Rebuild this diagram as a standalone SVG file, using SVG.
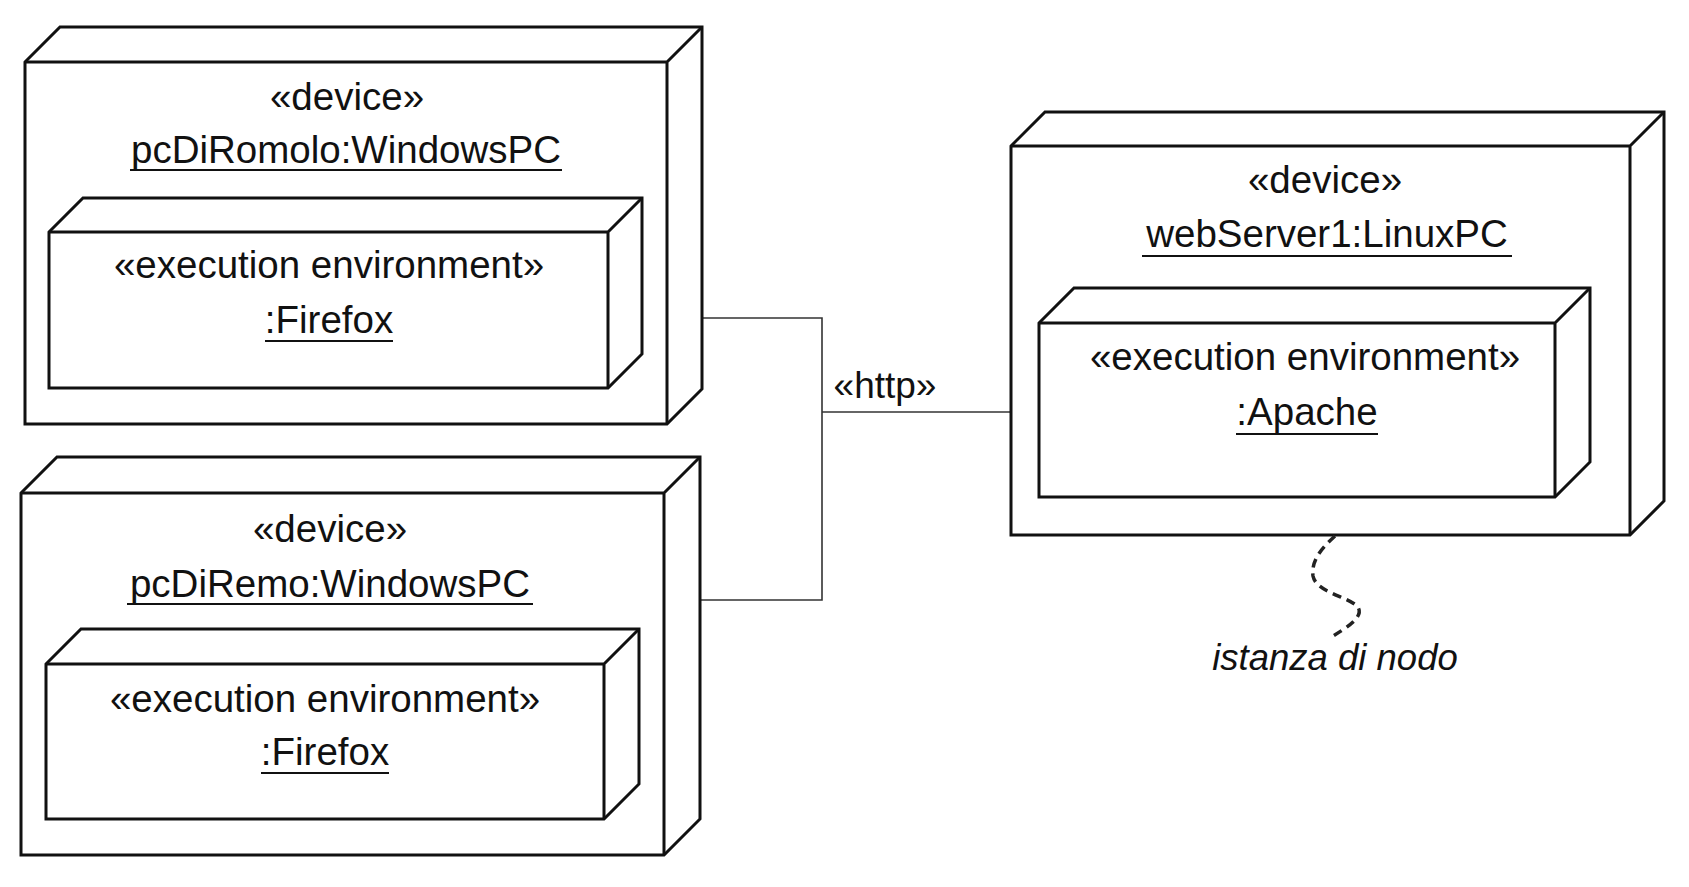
<svg xmlns="http://www.w3.org/2000/svg" width="1689" height="887" viewBox="0 0 1689 887">
<style>
.box{fill:#fff;stroke:#111;stroke-width:3;stroke-linejoin:miter}
.edge{fill:none;stroke:#111;stroke-width:3}
.t{font-family:"Liberation Sans",Arial,sans-serif;font-size:38.5px;fill:#111;text-anchor:middle}
.u{stroke:#111;stroke-width:2}
.conn{fill:none;stroke:#333;stroke-width:1.6}
</style>
<rect width="1689" height="887" fill="#fff"/>
<g id="connectors">
<polyline class="conn" points="667,318 822,318 822,600 664,600"/>
<line class="conn" x1="822" y1="412" x2="1011" y2="412"/>
<text class="t" x="885" y="398" style="font-size:37px">«http»</text>
</g>
<g id="pcDiRomolo">
<path class="box" d="M25,62 L60,27 L702,27 L702,389 L667,424 L25,424 Z"/>
<path class="edge" d="M25,62 H667 V424 M667,62 L702,27"/>
<text class="t" x="347" y="110">«device»</text>
<text class="t" x="346" y="163">pcDiRomolo:WindowsPC</text>
<line class="u" x1="130" y1="170" x2="562" y2="170"/>
<g id="firefox1">
<path class="box" d="M49,232 L83,198 L642,198 L642,354 L608,388 L49,388 Z"/>
<path class="edge" d="M49,232 H608 V388 M608,232 L642,198"/>
<text class="t" x="329" y="278">«execution environment»</text>
<text class="t" x="329" y="333">:Firefox</text>
<line class="u" x1="265" y1="341" x2="393" y2="341"/>
</g>
</g>
<g id="pcDiRemo">
<path class="box" d="M21,493 L57,457 L700,457 L700,819 L664,855 L21,855 Z"/>
<path class="edge" d="M21,493 H664 V855 M664,493 L700,457"/>
<text class="t" x="330" y="542">«device»</text>
<text class="t" x="330" y="597">pcDiRemo:WindowsPC</text>
<line class="u" x1="127" y1="604" x2="533" y2="604"/>
<g id="firefox2">
<path class="box" d="M46,664 L81,629 L639,629 L639,784 L604,819 L46,819 Z"/>
<path class="edge" d="M46,664 H604 V819 M604,664 L639,629"/>
<text class="t" x="325" y="712">«execution environment»</text>
<text class="t" x="325" y="765">:Firefox</text>
<line class="u" x1="261" y1="773" x2="389" y2="773"/>
</g>
</g>
<g id="webServer1">
<path class="box" d="M1011,146 L1045,112 L1664,112 L1664,501 L1630,535 L1011,535 Z"/>
<path class="edge" d="M1011,146 H1630 V535 M1630,146 L1664,112"/>
<text class="t" x="1325" y="193">«device»</text>
<text class="t" x="1327" y="247">webServer1:LinuxPC</text>
<line class="u" x1="1142" y1="256" x2="1512" y2="256"/>
<g id="apache">
<path class="box" d="M1039,323 L1074,288 L1590,288 L1590,462 L1555,497 L1039,497 Z"/>
<path class="edge" d="M1039,323 H1555 V497 M1555,323 L1590,288"/>
<text class="t" x="1305" y="370">«execution environment»</text>
<text class="t" x="1307" y="425">:Apache</text>
<line class="u" x1="1236" y1="434" x2="1378" y2="434"/>
</g>
</g>
<g id="note">
<path d="M1335,536 C1322,548 1311,560 1313,576 C1316,592 1346,596 1357,606 C1366,616 1346,628 1333,636" fill="none" stroke="#222" stroke-width="3.5" stroke-dasharray="9,6"/>
<text x="1335" y="670" style="font-family:'Liberation Sans',Arial,sans-serif;font-size:36.5px;font-style:italic;fill:#111;text-anchor:middle">istanza di nodo</text>
</g>
</svg>
